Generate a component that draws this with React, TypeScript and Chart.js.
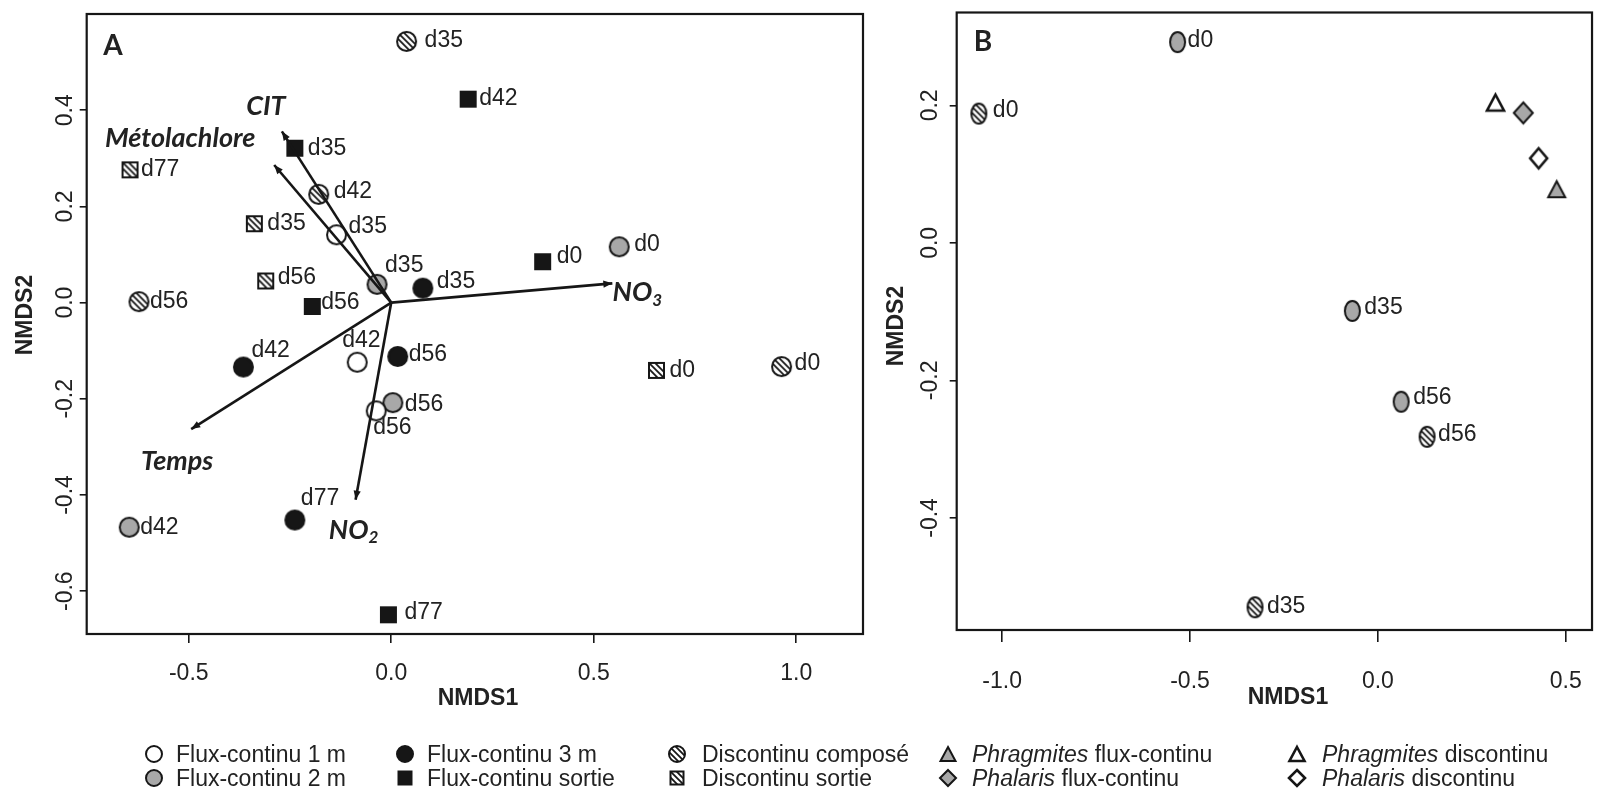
import React, { useEffect, useRef } from 'react';
import { Chart, registerables } from 'chart.js';

Chart.register(...registerables);

const SANS = '"Liberation Sans", Arial, Helvetica, sans-serif';
const HUM = 'Lato, "Open Sans", sans-serif';
const INK = '#161616';
const TXT = '#222222';
const GREY = '#a8a8a8';

// ---------------- Panel A : NMDS scores ----------------
const a_fc1_lab = ['d35', 'd42', 'd56'];
const a_fc1_x = [-0.135, -0.084, -0.037];
const a_fc1_y = [0.141, -0.124, -0.225];

const a_fc2_lab = ['d0', 'd35', 'd42', 'd56'];
const a_fc2_x = [0.563, -0.035, -0.647, 0.004];
const a_fc2_y = [0.116, 0.038, -0.467, -0.208];

const a_fc3_lab = ['d35', 'd42', 'd56', 'd77'];
const a_fc3_x = [0.078, -0.365, 0.016, -0.238];
const a_fc3_y = [0.03, -0.134, -0.112, -0.452];

const a_fcs_lab = ['d0', 'd35', 'd42', 'd56', 'd77'];
const a_fcs_x = [0.374, -0.238, 0.19, -0.195, -0.007];
const a_fcs_y = [0.085, 0.321, 0.423, -0.008, -0.649];

const a_dc_lab = ['d0', 'd35', 'd42', 'd56'];
const a_dc_x = [0.964, 0.038, -0.179, -0.623];
const a_dc_y = [-0.133, 0.543, 0.225, 0.002];

const a_ds_lab = ['d0', 'd35', 'd56', 'd77'];
const a_ds_x = [0.655, -0.338, -0.31, -0.645];
const a_ds_y = [-0.141, 0.164, 0.045, 0.276];

// environmental vectors (fitted arrows)
const vecNames = ['CIT', 'Métolachlore', 'NO3', 'Temps', 'NO2'];
const vecX = [-0.27, -0.289, 0.546, -0.494, -0.088];
const vecY = [0.356, 0.286, 0.04, -0.263, -0.41];

// ---------------- Panel B ----------------
const b_fc2_lab = ['d0', 'd35', 'd56'];
const b_fc2_x = [-0.533, -0.068, 0.062];
const b_fc2_y = [0.292, -0.099, -0.231];

const b_dc_lab = ['d0', 'd35', 'd56'];
const b_dc_x = [-1.062, -0.327, 0.131];
const b_dc_y = [0.188, -0.53, -0.282];

const b_phrFc_x = [0.476];
const b_phrFc_y = [0.078];
const b_phrD_x = [0.313];
const b_phrD_y = [0.204];
const b_phaFc_x = [0.387];
const b_phaFc_y = [0.189];
const b_phaD_x = [0.428];
const b_phaD_y = [0.123];

// ---------------- Axes ----------------
const aXTicks = [-0.5, 0, 0.5, 1.0];
const aYTicks = [-0.6, -0.4, -0.2, 0, 0.2, 0.4];
const bXTicks = [-1.0, -0.5, 0, 0.5];
const bYTicks = [-0.4, -0.2, 0, 0.2];
const aXRange = [-0.752, 1.165];
const aYRange = [-0.689, 0.6];
const bXRange = [-1.121, 0.57];
const bYRange = [-0.563, 0.335];

const legendLabels = [
  'Flux-continu 1 m', 'Flux-continu 2 m',
  'Flux-continu 3 m', 'Flux-continu sortie',
  'Discontinu composé', 'Discontinu sortie',
  'Phragmites flux-continu', 'Phalaris flux-continu',
  'Phragmites discontinu', 'Phalaris discontinu',
];

// ---------------- Styles (label offsets in px) ----------------
const a_fc1_off = [[12, -8], [-15, -22], [-3, 17]];
const a_fc2_off = [[15, -2], [8, -19], [11, 0], [12, 2]];
const a_fc3_off = [[14, -7], [8, -16], [11, -2], [6, -21]];
const a_fcs_off = [[14, -5], [13, 0], [11, 0], [9, -4], [16, -2]];
const a_dc_off = [[13, -3], [18, -1], [15, -3], [11, 0]];
const a_ds_off = [[13, 0], [13, 0], [12, -3], [11, 0]];
const b_fc2_off = [[10, -1], [12, -3], [12, -4]];
const b_dc_off = [[14, -3], [12, -1], [11, -2]];
const vecLabOff = [[-16, -25], [-94, -27], [25, 9], [-14, 32], [-2, 30]];

const legendKinds = ['cW', 'cG', 'cB', 'sB', 'cH', 'sH', 'tG', 'dG', 'tW', 'dW'];
const legendSymX = [154, 405, 677, 948, 1297];
const legendTxtX = [176, 427, 702, 972, 1322];
const legendRowY = [754, 778];

type Kind = string;

function drawMarker(ctx: CanvasRenderingContext2D, kind: Kind, cx: number, cy: number, w: number, h: number) {
  const rx = w / 2;
  const ry = h / 2;
  const shape = kind[0];
  const path = () => {
    ctx.beginPath();
    if (shape === 'c') ctx.ellipse(cx, cy, rx, ry, 0, 0, Math.PI * 2);
    else if (shape === 's') ctx.rect(cx - rx, cy - ry, w, h);
    else if (shape === 't') {
      ctx.moveTo(cx, cy - ry);
      ctx.lineTo(cx + rx, cy + ry);
      ctx.lineTo(cx - rx, cy + ry);
      ctx.closePath();
    } else {
      ctx.moveTo(cx, cy - ry);
      ctx.lineTo(cx + rx, cy);
      ctx.lineTo(cx, cy + ry);
      ctx.lineTo(cx - rx, cy);
      ctx.closePath();
    }
  };
  const fill = kind[1] === 'G' ? GREY : kind[1] === 'B' ? INK : '#ffffff';
  ctx.save();
  path();
  ctx.fillStyle = fill;
  ctx.fill();
  if (kind[1] === 'H') {
    ctx.save();
    path();
    ctx.clip();
    ctx.strokeStyle = INK;
    ctx.lineWidth = 1.8;
    const L = Math.max(w, h);
    for (let k = -1; k <= 1; k++) {
      const o = k * 4.3;
      const px = cx + o * Math.SQRT1_2;
      const py = cy - o * Math.SQRT1_2;
      ctx.beginPath();
      ctx.moveTo(px - L, py - L);
      ctx.lineTo(px + L, py + L);
      ctx.stroke();
    }
    ctx.restore();
  }
  path();
  ctx.lineWidth = kind === 'tW' || kind === 'dW' ? 2.6 : 2;
  ctx.strokeStyle = INK;
  ctx.lineJoin = 'miter';
  ctx.stroke();
  ctx.restore();
}

function markerImage(kind: Kind, w: number, h: number) {
  const c = document.createElement('canvas');
  c.width = Math.ceil(w + 6);
  c.height = Math.ceil(h + 6);
  const ctx = c.getContext('2d') as CanvasRenderingContext2D;
  drawMarker(ctx, kind, c.width / 2, c.height / 2, w, h);
  return c;
}

function ptSet(xs: number[], ys: number[], labels: string[] | null, offs: number[][] | null, img: HTMLCanvasElement) {
  return {
    data: xs.map((x, i) => ({ x, y: ys[i] })),
    pointStyle: img,
    pointRadius: 6,
    pointHoverRadius: 6,
    ptLabels: labels,
    labOffs: offs,
    order: 2,
  } as any;
}

function vecSet(i: number) {
  return {
    data: [{ x: 0, y: 0 }, { x: vecX[i], y: vecY[i] }],
    showLine: true,
    borderColor: INK,
    borderWidth: 2.6,
    pointRadius: 0,
    pointHoverRadius: 0,
    isVector: true,
    vecName: vecNames[i],
    labOff: vecLabOff[i],
    order: 0,
  } as any;
}

function scaleOpts(range: number[], ticks: number[], tickLen: number, axis: 'x' | 'y', size: number, pad: number) {
  return {
    type: 'linear',
    min: range[0],
    max: range[1],
    afterBuildTicks: (s: any) => {
      s.ticks = ticks.map((v) => ({ value: v }));
    },
    afterFit: (s: any) => {
      if (axis === 'x') s.height = size;
      else s.width = size;
    },
    grid: { drawOnChartArea: false, drawTicks: true, tickLength: tickLen, color: INK, lineWidth: 1.6 },
    border: { display: false },
    ticks:
      axis === 'x'
        ? {
            display: true,
            padding: pad,
            font: { family: SANS, size: 23 },
            color: TXT,
            callback: (v: any) => Number(v).toFixed(1),
            maxRotation: 0,
            minRotation: 0,
            autoSkip: false,
          }
        : { display: false },
  } as any;
}

function drawVecLabel(ctx: CanvasRenderingContext2D, name: string, cx: number, cy: number) {
  const m = name.match(/^(.*?)(\d)$/);
  ctx.fillStyle = TXT;
  ctx.textBaseline = 'middle';
  const big = `italic bold 27px ${HUM}`;
  const small = `italic bold 17px ${HUM}`;
  if (m) {
    ctx.font = big;
    const w1 = ctx.measureText(m[1]).width;
    ctx.font = small;
    const w2 = ctx.measureText(m[2]).width;
    const x0 = cx - (w1 + w2) / 2;
    ctx.textAlign = 'left';
    ctx.font = big;
    ctx.fillText(m[1], x0, cy);
    ctx.font = small;
    ctx.fillText(m[2], x0 + w1, cy + 8);
  } else {
    ctx.font = big;
    ctx.textAlign = 'center';
    ctx.fillText(name, cx, cy);
  }
}

function panelDeco(o: {
  id: string;
  letter: string;
  letterPos: number[];
  yLabDx: number;
  yTitle: number[];
  xTitle: number[];
}) {
  return {
    id: o.id,
    afterDatasetsDraw(chart: any) {
      const ctx: CanvasRenderingContext2D = chart.ctx;
      ctx.save();
      chart.data.datasets.forEach((ds: any, i: number) => {
        const meta = chart.getDatasetMeta(i);
        if (ds.isVector) {
          const p0 = meta.data[0];
          const p1 = meta.data[1];
          const ang = Math.atan2(p1.y - p0.y, p1.x - p0.x);
          const hl = 9;
          const hw = 3.6;
          ctx.fillStyle = INK;
          ctx.beginPath();
          ctx.moveTo(p1.x, p1.y);
          ctx.lineTo(p1.x - hl * Math.cos(ang) + hw * Math.sin(ang), p1.y - hl * Math.sin(ang) - hw * Math.cos(ang));
          ctx.lineTo(p1.x - hl * Math.cos(ang) - hw * Math.sin(ang), p1.y - hl * Math.sin(ang) + hw * Math.cos(ang));
          ctx.closePath();
          ctx.fill();
          drawVecLabel(ctx, ds.vecName, p1.x + ds.labOff[0], p1.y + ds.labOff[1]);
        } else if (ds.ptLabels) {
          ctx.font = `23px ${SANS}`;
          ctx.fillStyle = TXT;
          ctx.textAlign = 'left';
          ctx.textBaseline = 'middle';
          meta.data.forEach((el: any, j: number) => {
            const off = ds.labOffs[j];
            ctx.fillText(ds.ptLabels[j], el.x + off[0], el.y + off[1]);
          });
        }
      });
      ctx.restore();
    },
    afterDraw(chart: any) {
      const ctx: CanvasRenderingContext2D = chart.ctx;
      const a = chart.chartArea;
      ctx.save();
      ctx.strokeStyle = INK;
      ctx.lineWidth = 2.2;
      ctx.strokeRect(a.left, a.top, a.right - a.left, a.bottom - a.top);
      const ys = chart.scales.y;
      ctx.fillStyle = TXT;
      ctx.font = `23px ${SANS}`;
      ctx.textAlign = 'center';
      ctx.textBaseline = 'middle';
      ys.ticks.forEach((t: any) => {
        const py = ys.getPixelForValue(t.value);
        ctx.save();
        ctx.translate(a.left - o.yLabDx, py);
        ctx.rotate(-Math.PI / 2);
        ctx.fillText(Number(t.value).toFixed(1), 0, 0);
        ctx.restore();
      });
      ctx.font = `bold 23px ${SANS}`;
      ctx.save();
      ctx.translate(o.yTitle[0], o.yTitle[1]);
      ctx.rotate(-Math.PI / 2);
      ctx.fillText('NMDS2', 0, 0);
      ctx.restore();
      ctx.fillText('NMDS1', o.xTitle[0], o.xTitle[1]);
      ctx.font = `bold 28px ${HUM}`;
      ctx.fillText(o.letter, o.letterPos[0], o.letterPos[1]);
      ctx.restore();
    },
  };
}

function baseOptions(scales: any, padTop: number, padRight: number) {
  return {
    responsive: false,
    animation: false,
    events: [],
    layout: { padding: { left: 0, top: padTop, right: padRight, bottom: 0 } },
    plugins: { legend: { display: false }, tooltip: { enabled: false } },
    scales,
  } as any;
}

export default function App() {
  const refA = useRef<HTMLCanvasElement>(null);
  const refB = useRef<HTMLCanvasElement>(null);
  const refL = useRef<HTMLCanvasElement>(null);

  useEffect(() => {
    const cA = 19;
    const sA = 15;
    const imgA = {
      cW: markerImage('cW', cA, cA),
      cG: markerImage('cG', cA, cA),
      cB: markerImage('cB', cA, cA),
      sB: markerImage('sB', sA, sA),
      cH: markerImage('cH', cA, cA),
      sH: markerImage('sH', sA, sA),
    };
    const imgB = {
      cG: markerImage('cG', 15, 20),
      cH: markerImage('cH', 15, 20),
      tG: markerImage('tG', 17, 16),
      tW: markerImage('tW', 17, 16),
      dG: markerImage('dG', 19, 21),
      dW: markerImage('dW', 17, 20),
    };

    const chartA = new Chart(refA.current as HTMLCanvasElement, {
      type: 'scatter',
      data: {
        datasets: [
          ptSet(a_fc1_x, a_fc1_y, a_fc1_lab, a_fc1_off, imgA.cW),
          ptSet(a_fc2_x, a_fc2_y, a_fc2_lab, a_fc2_off, imgA.cG),
          ptSet(a_fc3_x, a_fc3_y, a_fc3_lab, a_fc3_off, imgA.cB),
          ptSet(a_fcs_x, a_fcs_y, a_fcs_lab, a_fcs_off, imgA.sB),
          ptSet(a_dc_x, a_dc_y, a_dc_lab, a_dc_off, imgA.cH),
          ptSet(a_ds_x, a_ds_y, a_ds_lab, a_ds_off, imgA.sH),
          ...vecNames.map((_, i) => vecSet(i)),
        ],
      },
      options: baseOptions(
        {
          x: scaleOpts(aXRange, aXTicks, 9, 'x', 86, 17),
          y: scaleOpts(aYRange, aYTicks, 7, 'y', 86.7, 0),
        },
        14,
        3
      ),
      plugins: [
        panelDeco({
          id: 'decoA',
          letter: 'A',
          letterPos: [113, 46],
          yLabDx: 21,
          yTitle: [26, 315],
          xTitle: [478, 699],
        }),
      ],
    } as any);

    const chartB = new Chart(refB.current as HTMLCanvasElement, {
      type: 'scatter',
      data: {
        datasets: [
          ptSet(b_fc2_x, b_fc2_y, b_fc2_lab, b_fc2_off, imgB.cG),
          ptSet(b_dc_x, b_dc_y, b_dc_lab, b_dc_off, imgB.cH),
          ptSet(b_phrFc_x, b_phrFc_y, null, null, imgB.tG),
          ptSet(b_phrD_x, b_phrD_y, null, null, imgB.tW),
          ptSet(b_phaFc_x, b_phaFc_y, null, null, imgB.dG),
          ptSet(b_phaD_x, b_phaD_y, null, null, imgB.dW),
        ],
      },
      options: baseOptions(
        {
          x: scaleOpts(bXRange, bXTicks, 12, 'x', 90, 26),
          y: scaleOpts(bYRange, bYTicks, 7, 'y', 86.7, 0),
        },
        12.5,
        2
      ),
      plugins: [
        panelDeco({
          id: 'decoB',
          letter: 'B',
          letterPos: [113, 42],
          yLabDx: 26,
          yTitle: [27, 326],
          xTitle: [418, 698],
        }),
      ],
    } as any);

    const lc = refL.current as HTMLCanvasElement;
    const lctx = lc.getContext('2d') as CanvasRenderingContext2D;
    lctx.clearRect(0, 0, lc.width, lc.height);
    legendKinds.forEach((k, i) => {
      const col = Math.floor(i / 2);
      const row = i % 2;
      const cx = legendSymX[col];
      const cy = legendRowY[row] - 721;
      const sz = k[0] === 's' ? 13 : k[0] === 't' ? 15 : 16;
      drawMarker(lctx, k, cx, cy, sz, k[0] === 't' ? 14 : sz);
    });

    return () => {
      chartA.destroy();
      chartB.destroy();
    };
  }, []);

  const legendItems = legendLabels.map((lab, i) => {
    const col = Math.floor(i / 2);
    const row = i % 2;
    const m = lab.match(/^(Phragmites|Phalaris)(.*)$/);
    return (
      <span
        key={i}
        style={{
          position: 'absolute',
          left: legendTxtX[col],
          top: legendRowY[row] - 14,
          fontFamily: SANS,
          fontSize: 23,
          lineHeight: '28px',
          color: TXT,
          whiteSpace: 'nowrap',
        }}
      >
        {m ? (
          <>
            <i>{m[1]}</i>
            {m[2]}
          </>
        ) : (
          lab
        )}
      </span>
    );
  });

  return (
    <div
      style={{
        position: 'absolute',
        left: 0,
        top: 0,
        width: 1608,
        height: 791,
        background: '#ffffff',
        overflow: 'hidden',
      }}
    >
      <canvas ref={refA} width={870} height={720} style={{ position: 'absolute', left: 0, top: 0 }} />
      <canvas ref={refB} width={738} height={720} style={{ position: 'absolute', left: 870, top: 0 }} />
      <canvas ref={refL} width={1608} height={70} style={{ position: 'absolute', left: 0, top: 721 }} />
      {legendItems}
    </div>
  );
}
